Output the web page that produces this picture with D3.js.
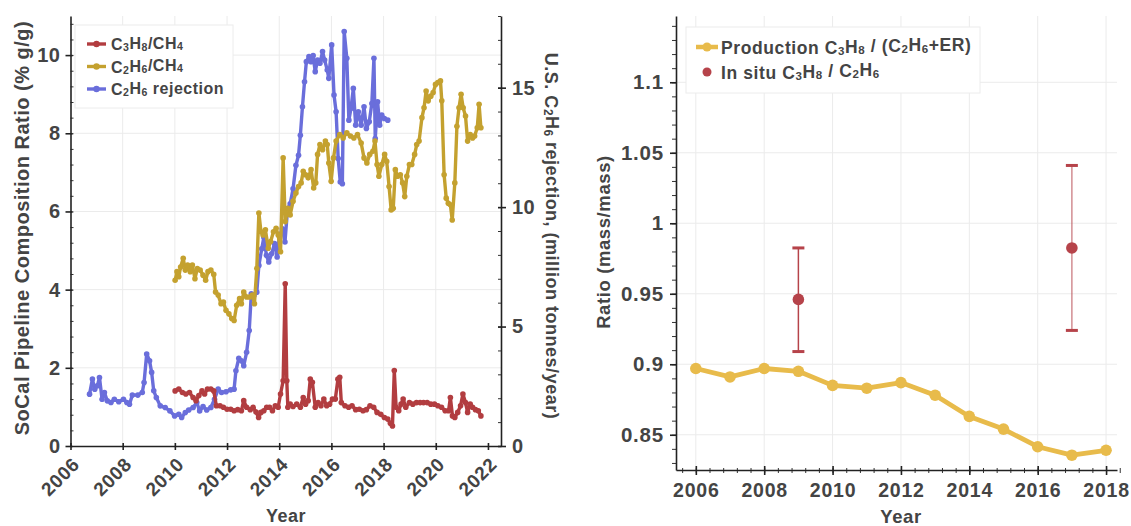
<!DOCTYPE html>
<meta charset="utf-8">
<html lang="en">
<head>
    <meta charset="UTF-8">
    <title>D3</title>
    <script src="https://d3js.org/d3.v7.min.js"></script>
    <style>
        body { margin: 0; background: #fff; }
        text { font-family: "Liberation Sans", Arial, sans-serif; font-weight: bold; fill: #444; }
    </style>
</head>
<body>
    <div id="viz"></div>
    <script>
        // left panel: SoCal pipeline ratios (% g/g) and US ethane rejection
        const c3h8Series = [[2010.01,1.41],[2010.15,1.46],[2010.29,1.37],[2010.42,1.33],[2010.56,1.37],[2010.70,1.24],[2010.81,1.16],[2010.92,1.29],[2011.04,1.41],[2011.14,1.33],[2011.25,1.46],[2011.38,1.46],[2011.49,1.41],[2011.59,1.03],[2011.73,1.03],[2011.86,0.99],[2012.00,0.94],[2012.14,0.94],[2012.27,0.90],[2012.41,0.93],[2012.55,0.90],[2012.64,1.16],[2012.75,0.99],[2012.89,0.93],[2013.00,0.99],[2013.11,0.87],[2013.21,0.73],[2013.30,0.86],[2013.41,0.90],[2013.52,0.99],[2013.63,0.99],[2013.74,0.90],[2013.85,1.03],[2013.96,0.99],[2014.05,1.33],[2014.15,1.67],[2014.23,4.15],[2014.29,1.67],[2014.33,0.99],[2014.42,1.07],[2014.53,1.01],[2014.67,1.07],[2014.81,0.99],[2014.92,1.24],[2015.01,1.07],[2015.11,1.16],[2015.19,1.71],[2015.27,1.63],[2015.38,0.99],[2015.49,1.11],[2015.60,1.03],[2015.71,1.20],[2015.82,1.03],[2015.93,1.07],[2016.04,1.20],[2016.15,1.20],[2016.25,1.71],[2016.32,1.76],[2016.38,1.11],[2016.52,1.03],[2016.66,0.99],[2016.79,1.03],[2016.93,0.93],[2017.07,0.94],[2017.21,0.90],[2017.34,0.93],[2017.48,1.03],[2017.62,0.99],[2017.75,0.86],[2017.89,0.81],[2018.03,0.73],[2018.16,0.69],[2018.26,0.58],[2018.34,0.51],[2018.41,1.93],[2018.48,0.99],[2018.58,0.90],[2018.67,1.07],[2018.75,1.20],[2018.85,0.99],[2018.99,1.11],[2019.12,1.07],[2019.26,1.11],[2019.40,1.11],[2019.53,1.11],[2019.67,1.11],[2019.81,1.07],[2019.95,1.07],[2020.08,1.03],[2020.22,0.99],[2020.36,0.90],[2020.49,0.90],[2020.56,1.24],[2020.64,0.77],[2020.73,0.73],[2020.84,0.86],[2020.95,1.03],[2021.04,1.33],[2021.14,1.11],[2021.22,0.86],[2021.32,1.07],[2021.41,0.99],[2021.52,0.93],[2021.63,0.90],[2021.73,0.77]];

        const c2h6Series = [[2010.01,4.24],[2010.08,4.46],[2010.15,4.33],[2010.22,4.58],[2010.32,4.80],[2010.40,4.50],[2010.49,4.63],[2010.59,4.46],[2010.67,4.63],[2010.77,4.28],[2010.86,4.54],[2010.97,4.50],[2011.08,4.37],[2011.18,4.24],[2011.27,4.46],[2011.38,4.50],[2011.49,4.39],[2011.56,3.94],[2011.66,3.86],[2011.77,3.64],[2011.86,3.68],[2011.96,3.47],[2012.07,3.38],[2012.18,3.26],[2012.27,3.21],[2012.37,3.60],[2012.48,3.77],[2012.55,3.64],[2012.64,3.94],[2012.75,3.81],[2012.86,3.81],[2012.97,3.86],[2013.05,3.64],[2013.14,4.54],[2013.22,5.96],[2013.30,5.48],[2013.38,5.40],[2013.47,5.53],[2013.58,5.06],[2013.67,5.23],[2013.78,5.48],[2013.88,5.57],[2013.96,5.40],[2014.05,4.97],[2014.15,7.37],[2014.23,5.74],[2014.33,6.08],[2014.42,5.91],[2014.53,6.26],[2014.64,6.47],[2014.74,6.64],[2014.84,6.73],[2014.92,7.03],[2015.01,6.94],[2015.11,6.86],[2015.22,7.07],[2015.32,6.60],[2015.40,6.73],[2015.47,7.46],[2015.56,7.71],[2015.66,7.58],[2015.77,7.80],[2015.84,7.71],[2015.90,7.24],[2015.99,6.77],[2016.08,7.37],[2016.18,7.80],[2016.32,7.97],[2016.45,7.88],[2016.59,8.01],[2016.73,7.93],[2016.86,7.88],[2017.00,7.97],[2017.14,7.75],[2017.25,7.37],[2017.36,7.24],[2017.47,7.46],[2017.59,7.54],[2017.67,7.80],[2017.75,7.20],[2017.82,6.90],[2017.93,7.20],[2018.04,7.46],[2018.12,7.28],[2018.21,6.64],[2018.29,6.04],[2018.37,6.08],[2018.45,7.07],[2018.53,6.90],[2018.64,6.94],[2018.73,6.73],[2018.81,6.38],[2018.89,6.90],[2018.99,7.20],[2019.08,7.20],[2019.19,7.46],[2019.27,7.71],[2019.36,7.80],[2019.47,8.40],[2019.55,8.65],[2019.63,9.08],[2019.71,8.83],[2019.81,8.95],[2019.90,9.04],[2019.99,9.25],[2020.08,9.30],[2020.18,9.34],[2020.23,8.83],[2020.32,6.94],[2020.40,6.34],[2020.48,6.21],[2020.56,6.17],[2020.63,5.78],[2020.73,6.73],[2020.81,8.18],[2020.89,8.65],[2020.97,9.00],[2021.05,8.65],[2021.14,8.44],[2021.22,7.80],[2021.32,7.97],[2021.41,7.88],[2021.49,7.93],[2021.59,8.14],[2021.66,8.74],[2021.73,8.14]];

        // million tonnes / year, right axis
        const rejectionSeries = [[2006.73,2.17],[2006.84,2.80],[2006.93,2.38],[2007.03,2.52],[2007.11,2.87],[2007.21,1.96],[2007.30,2.24],[2007.41,1.89],[2007.55,1.82],[2007.68,1.96],[2007.85,1.85],[2008.03,1.96],[2008.16,1.82],[2008.26,1.75],[2008.37,2.13],[2008.58,2.13],[2008.75,2.24],[2008.82,2.66],[2008.92,3.85],[2009.03,3.57],[2009.11,3.08],[2009.19,2.31],[2009.29,2.03],[2009.44,1.68],[2009.63,1.61],[2009.81,1.47],[2009.99,1.26],[2010.15,1.33],[2010.26,1.19],[2010.40,1.40],[2010.53,1.51],[2010.70,1.61],[2010.84,1.82],[2010.95,1.47],[2011.08,1.65],[2011.22,1.51],[2011.38,1.61],[2011.52,1.96],[2011.66,2.38],[2011.79,2.24],[2011.96,2.27],[2012.14,2.35],[2012.27,2.38],[2012.34,3.15],[2012.45,3.67],[2012.55,3.57],[2012.64,3.36],[2012.75,3.92],[2012.85,4.83],[2012.93,6.37],[2013.03,6.30],[2013.14,6.44],[2013.22,7.56],[2013.33,8.26],[2013.41,8.74],[2013.51,7.98],[2013.60,7.70],[2013.71,8.05],[2013.82,8.47],[2013.92,7.91],[2014.01,8.81],[2014.12,9.09],[2014.22,8.54],[2014.32,9.93],[2014.42,10.14],[2014.53,10.77],[2014.64,11.75],[2014.74,12.17],[2014.81,13.01],[2014.89,14.20],[2014.97,15.25],[2015.04,16.09],[2015.14,16.30],[2015.22,16.09],[2015.30,16.34],[2015.38,15.67],[2015.47,16.16],[2015.56,16.02],[2015.66,16.51],[2015.74,16.16],[2015.84,15.74],[2015.90,15.39],[2016.01,16.79],[2016.10,14.69],[2016.18,13.99],[2016.26,12.03],[2016.34,11.05],[2016.42,10.98],[2016.49,17.35],[2016.59,16.23],[2016.67,13.64],[2016.75,14.13],[2016.84,14.97],[2016.93,13.43],[2017.03,13.99],[2017.14,13.43],[2017.25,14.20],[2017.34,13.29],[2017.45,13.57],[2017.55,14.34],[2017.63,16.23],[2017.68,12.87],[2017.77,14.41],[2017.85,13.43],[2017.93,13.85],[2018.03,13.71],[2018.16,13.64]];

        const leftYearTicks = [2006, 2008, 2010, 2012, 2014, 2016, 2018, 2020, 2022];
        const leftRatioTicks = [0, 2, 4, 6, 8, 10];
        const rejectionTicks = [0, 5, 10, 15];

        // right panel: propane / ethane mass ratio
        const prodYears = [2006, 2007, 2008, 2009, 2010, 2011, 2012, 2013, 2014, 2015, 2016, 2017, 2018];
        const prodRatio = [0.897, 0.891, 0.897, 0.895, 0.885, 0.883, 0.887, 0.878, 0.863, 0.854, 0.8415, 0.8355, 0.839];
        const insituYears = [2009, 2017];
        const insituRatio = [0.946, 0.9825];
        const insituLow = [0.909, 0.924];
        const insituHigh = [0.9825, 1.041];
        const rightYearTicks = [2006, 2008, 2010, 2012, 2014, 2016, 2018];
        const rightRatioTicks = [0.85, 0.9, 0.95, 1, 1.05, 1.1];

        const colRed = "#b23d40", colGold = "#c4a12f", colBlue = "#6a6edb";
        const colProd = "#e8bb4b", colInsitu = "#b6434a";

        const svg = d3.select("#viz")
            .append("svg")
                .attr("width", 1131)
                .attr("height", 526);

        // text with _n subscripts
        function richText(sel, str) {
            let low = false;
            str.split(/(_\d)/).filter(s => s.length).forEach(p => {
                if (p[0] === "_") {
                    sel.append("tspan").attr("font-size", "66%").attr("dy", low ? null : "0.12em").text(p[1]);
                    low = true;
                } else {
                    sel.append("tspan").attr("dy", low ? "-0.12em" : null).text(p);
                    low = false;
                }
            });
            return sel;
        }

        // ---------- left panel ----------
        const L = {left: 70.5, right: 501, top: 16, bottom: 446};
        const x1 = d3.scaleLinear().domain([2006, 2022.5]).range([L.left, L.right]);
        const yL = d3.scaleLinear().domain([0, 11]).range([L.bottom, L.top]);
        const yR = d3.scaleLinear().domain([0, 18]).range([L.bottom, L.top]);

        const g1 = svg.append("g");
        // grid
        g1.selectAll(".vg").data(leftYearTicks.slice(1, -1)).join("line")
            .attr("x1", d => x1(d)).attr("x2", d => x1(d))
            .attr("y1", L.top).attr("y2", L.bottom)
            .attr("stroke", "#ebebeb").attr("stroke-width", 1);
        g1.selectAll(".hg").data(leftRatioTicks.slice(1)).join("line")
            .attr("x1", L.left).attr("x2", L.right)
            .attr("y1", d => yL(d)).attr("y2", d => yL(d))
            .attr("stroke", "#ebebeb").attr("stroke-width", 1);

        function styleAxis(g, fs, ls) {
            g.select(".domain").attr("stroke", "#222").attr("stroke-width", 1.6);
            g.selectAll(".tick line").attr("stroke", "#222").attr("stroke-width", 1.6);
            g.selectAll(".tick text").attr("fill", "#444").attr("font-size", fs)
                .attr("letter-spacing", ls || 0)
                .attr("font-family", "Liberation Sans, Arial, sans-serif").attr("font-weight", "bold");
        }

        // minor ticks
        g1.append("g").attr("transform", `translate(${L.left},0)`)
            .call(d3.axisLeft(yL).tickValues(d3.range(0, 11.01, 0.4)).tickSize(-3).tickFormat(""))
            .call(g => { g.select(".domain").remove(); g.selectAll("line").attr("stroke", "#333").attr("stroke-width", 1); });
        g1.append("g").attr("transform", `translate(${L.right},0)`)
            .call(d3.axisRight(yR).tickValues(d3.range(0, 18.01, 1)).tickSize(-3).tickFormat(""))
            .call(g => { g.select(".domain").remove(); g.selectAll("line").attr("stroke", "#333").attr("stroke-width", 1); });

        g1.append("g").attr("transform", `translate(${L.left},0)`)
            .call(d3.axisLeft(yL).tickValues(leftRatioTicks).tickSize(5).tickSizeOuter(0).tickPadding(5))
            .call(g => styleAxis(g, 20, 0.5))
            .call(g => g.selectAll(".tick line").attr("x2", -5).attr("x1", 2));
        g1.append("g").attr("transform", `translate(${L.right},0)`)
            .call(d3.axisRight(yR).tickValues(rejectionTicks).tickSize(5).tickSizeOuter(0).tickPadding(6))
            .call(g => styleAxis(g, 20, 0.5))
            .call(g => g.selectAll(".tick line").attr("x1", -3));
        g1.append("g").attr("transform", `translate(0,${L.bottom})`)
            .call(d3.axisBottom(x1).tickValues(leftYearTicks).tickSize(4).tickSizeOuter(0).tickFormat(d3.format("d")))
            .call(g => styleAxis(g, 19, 0.6))
            .call(g => g.selectAll(".tick line").attr("y1", -3))
            .call(g => g.selectAll(".tick text")
                .attr("text-anchor", "end").attr("y", 0).attr("dy", "0.35em")
                .attr("transform", "translate(5,15) rotate(-45)"));

        const lineFn = (y) => d3.line().x(d => x1(d[0])).y(d => y(d[1]));
        const seriesL = [
            {data: rejectionSeries, y: yR, col: colBlue},
            {data: c2h6Series, y: yL, col: colGold},
            {data: c3h8Series, y: yL, col: colRed}
        ];
        seriesL.forEach(s => {
            g1.append("path").datum(s.data)
                .attr("fill", "none").attr("stroke", s.col).attr("stroke-width", 3.4)
                .attr("stroke-linejoin", "round")
                .attr("d", lineFn(s.y));
            g1.append("g").selectAll("circle").data(s.data).join("circle")
                .attr("cx", d => x1(d[0])).attr("cy", d => s.y(d[1])).attr("r", 2.8)
                .attr("fill", s.col);
        });

        // axis titles
        richText(svg.append("text").attr("transform", "translate(29,228) rotate(-90)")
            .attr("text-anchor", "middle").attr("font-size", 20).attr("letter-spacing", 0.5),
            "SoCal Pipeline Composition Ratio (% g/g)");
        richText(svg.append("text").attr("transform", "translate(545,236) rotate(90)")
            .attr("text-anchor", "middle").attr("font-size", 18).attr("letter-spacing", 0.5),
            "U.S. C_2H_6 rejection, (million tonnes/year)");
        svg.append("text").attr("x", 286).attr("y", 522).attr("text-anchor", "middle")
            .attr("font-size", 18).attr("letter-spacing", 0.5).text("Year");

        // legend
        const leg1 = svg.append("g");
        leg1.append("rect").attr("x", 75).attr("y", 25).attr("width", 158).attr("height", 83)
            .attr("fill", "#fff").attr("stroke", "#ececec");
        const leg1Items = [["C_3H_8/CH_4", colRed], ["C_2H_6/CH_4", colGold], ["C_2H_6 rejection", colBlue]];
        leg1Items.forEach((it, i) => {
            const yy = 44 + i * 22.5;
            leg1.append("line").attr("x1", 87).attr("x2", 106).attr("y1", yy).attr("y2", yy)
                .attr("stroke", it[1]).attr("stroke-width", 3.4);
            leg1.append("circle").attr("cx", 96.5).attr("cy", yy).attr("r", 3.2).attr("fill", it[1]);
            richText(leg1.append("text").attr("x", 111).attr("y", yy + 6).attr("font-size", 16)
                .attr("letter-spacing", 0.5).attr("fill", "#333"), it[0]);
        });

        // ---------- right panel ----------
        const R = {left: 676, right: 1117, top: 16, bottom: 470};
        const x2 = d3.scaleLinear().domain([2005.42, 2018.32]).range([R.left, R.right]);
        const y2 = d3.scaleLinear().domain([0.825, 1.147]).range([R.bottom, R.top]);
        const g2 = svg.append("g");

        g2.selectAll(".vg").data(rightYearTicks).join("line")
            .attr("x1", d => x2(d)).attr("x2", d => x2(d))
            .attr("y1", R.top).attr("y2", R.bottom)
            .attr("stroke", "#ebebeb");
        g2.selectAll(".hg").data(rightRatioTicks).join("line")
            .attr("x1", R.left).attr("x2", R.right)
            .attr("y1", d => y2(d)).attr("y2", d => y2(d))
            .attr("stroke", "#ebebeb");

        g2.append("g").attr("transform", `translate(${R.left},0)`)
            .call(d3.axisLeft(y2).tickValues(d3.range(0.83, 1.145, 0.01)).tickSize(4).tickFormat(""))
            .call(g => { g.select(".domain").remove(); g.selectAll("line").attr("stroke", "#333").attr("stroke-width", 1); });
        g2.append("g").attr("transform", `translate(0,${R.bottom})`)
            .call(d3.axisBottom(x2).tickValues(d3.range(2005.6, 2018.4, 0.4)).tickSize(3).tickFormat(""))
            .call(g => { g.select(".domain").remove(); g.selectAll("line").attr("stroke", "#333").attr("stroke-width", 1).attr("y1", -2); });

        g2.append("g").attr("transform", `translate(${R.left},0)`)
            .call(d3.axisLeft(y2).tickValues(rightRatioTicks).tickSize(6).tickSizeOuter(0).tickPadding(6)
                .tickFormat(d => d3.format("")(d)))
            .call(g => styleAxis(g, 20.5, 0.8));
        g2.append("g").attr("transform", `translate(0,${R.bottom})`)
            .call(d3.axisBottom(x2).tickValues(rightYearTicks).tickSize(5).tickSizeOuter(0).tickPadding(8)
                .tickFormat(d3.format("d")))
            .call(g => styleAxis(g, 19.5, 0.8))
            .call(g => g.selectAll(".tick line").attr("y1", -4));

        const prod = prodYears.map((d, i) => [d, prodRatio[i]]);
        g2.append("path").datum(prod)
            .attr("fill", "none").attr("stroke", colProd).attr("stroke-width", 4.8)
            .attr("stroke-linejoin", "round")
            .attr("d", d3.line().x(d => x2(d[0])).y(d => y2(d[1])));
        g2.selectAll(".pd").data(prod).join("circle")
            .attr("cx", d => x2(d[0])).attr("cy", d => y2(d[1])).attr("r", 5.8).attr("fill", colProd);

        insituYears.forEach((yr, i) => {
            const gx = x2(yr);
            const op = i === 0 ? 1 : 0.6;
            g2.append("line").attr("x1", gx).attr("x2", gx)
                .attr("y1", y2(insituLow[i])).attr("y2", y2(insituHigh[i]))
                .attr("stroke", colInsitu).attr("stroke-width", 1.5).attr("opacity", op);
            [insituLow[i], insituHigh[i]].forEach(v => {
                g2.append("line").attr("x1", gx - 6).attr("x2", gx + 6)
                    .attr("y1", y2(v)).attr("y2", y2(v))
                    .attr("stroke", colInsitu).attr("stroke-width", 3);
            });
            g2.append("circle").attr("cx", gx).attr("cy", y2(insituRatio[i])).attr("r", 5.8)
                .attr("fill", colInsitu);
        });

        svg.append("text").attr("transform", "translate(610,242) rotate(-90)")
            .attr("text-anchor", "middle").attr("font-size", 18.5).attr("letter-spacing", 0.6)
            .text("Ratio (mass/mass)");
        svg.append("text").attr("x", 901).attr("y", 523).attr("text-anchor", "middle")
            .attr("font-size", 18.5).attr("letter-spacing", 0.6).text("Year");

        const leg2 = svg.append("g");
        leg2.append("rect").attr("x", 686).attr("y", 27).attr("width", 294).attr("height", 66)
            .attr("fill", "#fff").attr("stroke", "#ececec");
        leg2.append("line").attr("x1", 696).attr("x2", 718).attr("y1", 47).attr("y2", 47)
            .attr("stroke", colProd).attr("stroke-width", 4.5);
        leg2.append("circle").attr("cx", 707).attr("cy", 47).attr("r", 4.5).attr("fill", colProd);
        richText(leg2.append("text").attr("x", 721).attr("y", 53.5).attr("font-size", 17.5)
            .attr("letter-spacing", 0.6).attr("fill", "#333"),
            "Production C_3H_8 / (C_2H_6+ER)");
        leg2.append("circle").attr("cx", 707).attr("cy", 72).attr("r", 4.5).attr("fill", colInsitu);
        richText(leg2.append("text").attr("x", 721).attr("y", 78.5).attr("font-size", 17.5)
            .attr("letter-spacing", 0.6).attr("fill", "#333"),
            "In situ C_3H_8 / C_2H_6");
    </script>
</body>
</html>
